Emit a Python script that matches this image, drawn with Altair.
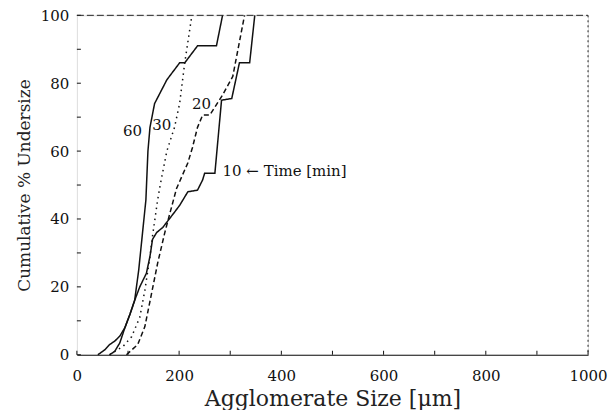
import altair as alt
import pandas as pd

# Curve data: agglomerate size (um) and cumulative % undersize
t10_x = [41, 55, 64, 74, 84, 94, 104, 113, 123, 136, 143, 148, 156, 168, 191, 201, 217, 236, 246, 250, 270, 283, 303, 318, 338, 348]
t10_y = [0, 1.5, 3, 4, 5.5, 8, 12, 16, 20, 24, 29, 34, 36, 37.5, 42, 44, 48, 48.5, 51.5, 53.5, 53.5, 75, 75.5, 86, 86, 100]

t60_x = [64, 74, 84, 94, 104, 113, 121, 135, 139, 143, 152, 176, 201, 211, 236, 273, 285]
t60_y = [0, 1, 3.5, 8, 12, 16, 25, 45.6, 60, 67, 74, 81, 86, 86, 91, 91, 100]

t30_x = [64, 70, 90, 107, 123, 133, 143, 148, 158, 163, 176, 191, 201, 211, 225]
t30_y = [0, 0.6, 2.4, 5.3, 11, 19, 29, 35, 45.6, 50, 60, 67, 74, 86, 100]

t20_x = [97, 119, 133, 146, 158, 172, 182, 195, 217, 226, 236, 246, 260, 285, 305, 328]
t20_y = [0, 3, 8.3, 18, 27, 36, 41.7, 49, 56.5, 61, 67, 70.6, 70.6, 76.5, 82, 100]

series_names = ["10", "20", "30", "60"]

label_text = ["60", "30", "20", "10 \u2190 Time [min]"]
label_x = [109, 166, 244, 285]
label_y = [66, 67.6, 74, 54]
label_align = ["center", "center", "center", "left"]

x_ticks = [0, 100, 200, 300, 400, 500, 600, 700, 800, 900, 1000]
y_ticks = [0, 10, 20, 30, 40, 50, 60, 70, 80, 90, 100]
x_labels = [0, 200, 400, 600, 800, 1000]
y_labels = [0, 20, 40, 60, 80, 100]

W, H = 512, 340
FONT = "DejaVu Serif"

rows = []
for name, xs, ys in [("10", t10_x, t10_y), ("20", t20_x, t20_y), ("30", t30_x, t30_y), ("60", t60_x, t60_y)]:
    for i, (a, b) in enumerate(zip(xs, ys)):
        rows.append({"size": a, "pct": b, "time": name, "ord": i})
df = pd.DataFrame(rows)

xs = alt.Scale(domain=[0, 1000], nice=False, zero=False)
ys = alt.Scale(domain=[0, 100], nice=False, zero=False)

xaxis = alt.Axis(values=x_labels, format="d", title="Agglomerate Size [\u03bcm]", grid=False, ticks=False,
                 domain=True, domainColor="#111", domainWidth=1.2, labelFlush=False,
                 labelFont=FONT, labelFontSize=15, labelColor="#111", labelPadding=14,
                 titleFont=FONT, titleFontSize=22, titleFontWeight="normal", titleColor="#222",
                 titlePadding=5)
yaxis = alt.Axis(values=y_labels, format="d", title="Cumulative % Undersize", grid=False, ticks=False,
                 domain=False, labelFlush=False,
                 labelFont=FONT, labelFontSize=15, labelColor="#111", labelPadding=8,
                 titleFont=FONT, titleFontSize=17, titleFontWeight="normal", titleColor="#222",
                 titlePadding=7)

lines = alt.Chart(df).mark_line(color="#111", strokeWidth=1.5).encode(
    x=alt.X("size:Q", scale=xs, axis=xaxis),
    y=alt.Y("pct:Q", scale=ys, axis=yaxis),
    order="ord:Q",
    detail="time:N",
    strokeDash=alt.StrokeDash("time:N", scale=alt.Scale(domain=series_names,
                              range=[[1, 0], [5, 3], [1.5, 4], [1, 0]]), legend=None),
)

lab_df = pd.DataFrame({"t": label_text, "x": label_x, "y": label_y, "a": label_align})
labels_c = alt.Chart(lab_df[lab_df.a == "center"]).mark_text(
    font=FONT, fontSize=15, color="#111", align="center", baseline="middle").encode(
    x=alt.X("x:Q", scale=xs), y=alt.Y("y:Q", scale=ys), text="t:N")
labels_l = alt.Chart(lab_df[lab_df.a == "left"]).mark_text(
    font=FONT, fontSize=15, color="#111", align="left", baseline="middle").encode(
    x=alt.X("x:Q", scale=xs), y=alt.Y("y:Q", scale=ys), text="t:N")

xt = alt.Chart(pd.DataFrame({"v": x_ticks})).mark_rule(color="#111", strokeWidth=1).encode(
    x=alt.X("v:Q", scale=xs), y=alt.value(H), y2=alt.value(H - 4))
yt = alt.Chart(pd.DataFrame({"v": y_ticks})).mark_rule(color="#111", strokeWidth=1).encode(
    y=alt.Y("v:Q", scale=ys), x=alt.value(0), x2=alt.value(4))

top = alt.Chart(pd.DataFrame({"v": [0]})).mark_rule(color="#222", strokeWidth=1, strokeDash=[7, 3]).encode(
    x=alt.value(0), x2=alt.value(W), y=alt.value(0))
right = alt.Chart(pd.DataFrame({"v": [0]})).mark_rule(color="#222", strokeWidth=1, strokeDash=[2, 3]).encode(
    x=alt.value(W), y=alt.value(0), y2=alt.value(H))

chart = alt.layer(lines, labels_c, labels_l, xt, yt, top, right).properties(
    width=W, height=H,
    autosize=alt.AutoSizeParams(type="none"),
    padding={"left": 69, "top": 7, "right": 20, "bottom": 55},
).configure_view(stroke=None).configure(background="white")

chart.save("out.html", embed_options={"renderer": "svg", "actions": False})
